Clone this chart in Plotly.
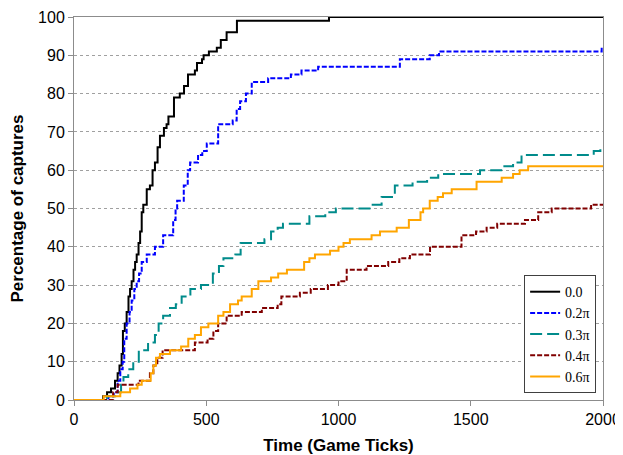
import plotly.graph_objects as go

# ---- data (step curves: x = game ticks, y = percentage of captures) ----
black_x = [0, 110, 125, 140, 155, 165, 172, 180, 185, 192, 199, 206, 212, 218, 225, 231, 237, 244,
           250, 256, 262, 275, 287, 297, 306, 316, 325, 340, 350, 357, 378, 400, 416, 431, 457, 465,
           484, 490, 510, 540, 555, 577, 616, 964, 2000]
black_y = [0, 1, 2, 3, 5, 7, 9, 12, 18, 20, 23, 27, 29, 31, 34, 36, 38, 41,
           44, 49, 51, 55, 56, 60, 62, 66, 69, 71, 72, 74, 79, 80, 82, 85, 86, 88,
           89, 90, 91, 92, 94, 96, 99, 100, 100]

blue_x = [0, 130, 150, 165, 175, 184, 190, 199, 210, 218, 228, 237, 246, 256, 275, 306, 337, 375,
          384, 390, 415, 430, 439, 469, 485, 502, 545, 600, 615, 628, 650, 672, 734, 820, 860, 923,
          1232, 1345, 1380, 1995, 2000]
blue_y = [0, 1, 2, 5, 8, 10, 16, 20, 23, 26, 29, 31, 33, 36, 38, 40, 43, 47,
          50, 52, 56, 60, 62, 64, 65, 67, 72, 73, 76, 78, 80, 83, 84, 85, 86, 87,
          89, 90, 91, 92, 92]

teal_x = [0, 125, 162, 178, 187, 205, 224, 245, 280, 306, 320, 337, 363, 385, 407, 440, 480, 525,
          548, 565, 610, 630, 720, 745, 770, 790, 890, 950, 990, 1125, 1163, 1213, 1280, 1335, 1377,
          1535, 1622, 1660, 1692, 1965, 1990, 2000]
teal_y = [0, 1, 2, 4, 6, 8, 10, 13, 15, 17, 20, 22, 24, 25, 27, 29, 30, 33,
          35, 37, 38, 41, 42, 44, 45, 46, 48, 49, 50, 51, 53, 56, 57, 58, 59,
          60, 61, 62, 64, 65, 66, 66]

red_x = [0, 148, 165, 244, 287, 300, 315, 335, 457, 505, 527, 545, 577, 634, 710, 770, 784, 854,
         895, 960, 1000, 1031, 1106, 1188, 1230, 1270, 1346, 1465, 1520, 1560, 1600, 1705, 1755,
         1806, 1955, 2000]
red_y = [0, 2, 4, 5, 7, 9, 11, 13, 15, 16, 18, 20, 22, 23, 24, 25, 27, 28,
         29, 30, 31, 34, 35, 36, 37, 38, 40, 43, 44, 45, 46, 47, 49,
         50, 51, 51]

orange_x = [0, 112, 175, 212, 240, 256, 290, 300, 310, 325, 363, 405, 432, 457, 480, 508, 545, 565,
            590, 620, 634, 672, 697, 745, 772, 805, 870, 890, 911, 968, 1000, 1019, 1043, 1125, 1157,
            1220, 1266, 1310, 1320, 1345, 1375, 1395, 1428, 1522, 1617, 1660, 1685, 1717, 2000]
orange_y = [0, 1, 2, 3, 4, 5, 7, 9, 11, 12, 13, 14, 16, 17, 19, 20, 22, 23,
            25, 26, 27, 29, 31, 32, 33, 34, 36, 37, 38, 39, 40, 41, 42, 43, 44,
            45, 47, 49, 50, 52, 53, 54, 55, 57, 58, 59, 60, 61, 61]

series_names = ["0.0", "0.2π", "0.3π", "0.4π", "0.6π"]
x_ticks = [0, 500, 1000, 1500, 2000]
y_ticks = [0, 10, 20, 30, 40, 50, 60, 70, 80, 90, 100]

series = [
    (black_x, black_y, series_names[0], "#000000", "solid"),
    (blue_x, blue_y, series_names[1], "#0000FF", "5px,2px"),
    (teal_x, teal_y, series_names[2], "#008B8B", "12px,5px"),
    (red_x, red_y, series_names[3], "#800000", "5px,2px"),
    (orange_x, orange_y, series_names[4], "#FFA500", "solid"),
]

fig = go.Figure()
for xs, ys, name, color, dash in series:
    fig.add_trace(go.Scatter(
        x=xs, y=ys, name=name, mode="lines",
        line=dict(color=color, width=2, dash=dash, shape="hv"),
    ))

axis_font = dict(family="Arial", size=16, color="#000000")
title_font = dict(family="Arial", size=17, color="#000000")

# page body has an 8px margin, so the figure is sized to the visible area
fig.update_layout(
    width=615, height=447,
    margin=dict(l=66, r=20, t=9, b=55, autoexpand=False),
    paper_bgcolor="white", plot_bgcolor="white",
    showlegend=True,
    legend=dict(
        x=0.987, y=0.018, xanchor="right", yanchor="bottom",
        bgcolor="white", bordercolor="#404040", borderwidth=1,
        font=dict(family="Liberation Serif", size=14, color="#000000"),
        tracegroupgap=0, itemwidth=30,
    ),
    xaxis=dict(
        range=[0, 2000], tickvals=x_ticks, ticktext=[str(v) for v in x_ticks],
        showgrid=False, zeroline=False, automargin=False, ticklabeloverflow="allow",
        showline=True, linecolor="#8c8c8c", linewidth=1, mirror=True,
        ticks="outside", ticklen=5, tickcolor="#8c8c8c",
        tickfont=axis_font,
        title=dict(text="<b>Time (Game Ticks)</b>", font=title_font),
    ),
    yaxis=dict(
        range=[0, 100], tickvals=y_ticks, ticktext=[str(v) for v in y_ticks],
        showgrid=True, gridcolor="#a0a0a0", gridwidth=1, griddash="dot",
        zeroline=False, automargin=False,
        showline=True, linecolor="#8c8c8c", linewidth=1, mirror=True,
        ticks="outside", ticklen=5, tickcolor="#8c8c8c",
        tickfont=axis_font,
        title=dict(text="<b>Percentage of captures</b>", font=title_font),
    ),
)

fig.write_html("out.html")
